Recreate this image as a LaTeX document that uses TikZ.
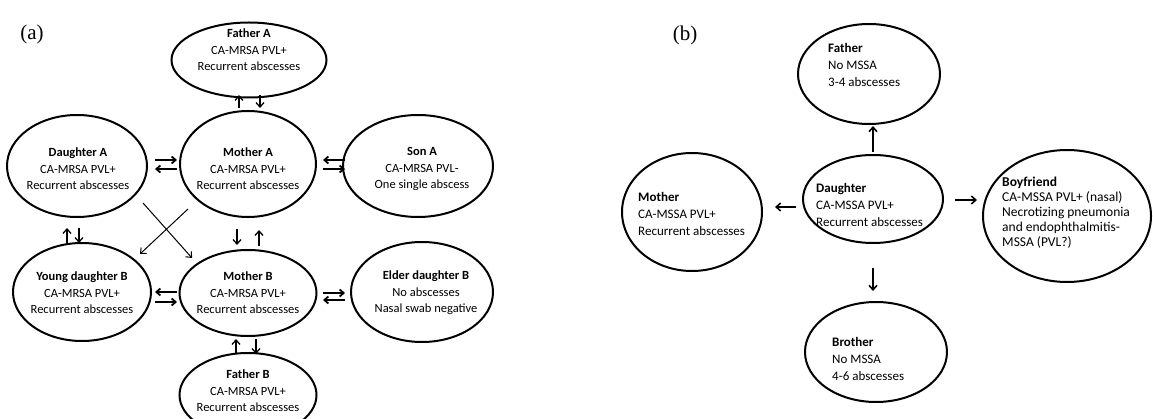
\documentclass[tikz,border=0pt]{standalone}
\usepackage{fontspec}
\setmainfont{Carlito}
\newfontfamily\labelfont{Liberation Serif}
\usetikzlibrary{shapes.geometric,arrows.meta}
\tikzset{
  fam/.style={draw, ellipse, line width=2pt, inner sep=0pt},
  txta/.style={align=center, font=\fontsize{12.5}{16.5}\selectfont, inner sep=0pt},
  txtb/.style={align=left, anchor=west, font=\fontsize{13}{17}\selectfont, inner sep=0pt},
  arr/.style={line width=1.8pt, -{Straight Barb[length=4pt,width=7pt]}},
  arrthin/.style={line width=1.3pt, -{Straight Barb[length=4.5pt,width=8pt]}},
  panel/.style={font=\labelfont\fontsize{21}{24}\selectfont, inner sep=0pt}
}
\begin{document}
\begin{tikzpicture}[x=1pt,y=-1pt]
\useasboundingbox (0,0) rectangle (1153,419);
\clip (0,0) rectangle (1153,419);
\fill[white] (0,0) rectangle (1153,419);
% ---------- panel (a)
\node[panel] (la) at (32,34) {(a)};
\node[fam, minimum width=155pt, minimum height=75pt] (fa) at (249,60) {};
\node[fam, minimum width=136pt, minimum height=106pt] (ma) at (248,164) {};
\node[fam, minimum width=140pt, minimum height=102pt] (da) at (77,166) {};
\node[fam, minimum width=150pt, minimum height=102pt] (sa) at (418,166) {};
\node[fam, minimum width=138pt, minimum height=98pt] (yb) at (82,292) {};
\node[fam, minimum width=137pt, minimum height=86pt] (mb) at (248,293) {};
\node[fam, minimum width=142pt, minimum height=100pt] (eb) at (422,292) {};
\node[fam, minimum width=137pt, minimum height=84pt] (fb) at (248,395) {};

\node[txta] (tfa) at (249,50) {\textbf{Father A}\\CA-MRSA PVL+\\Recurrent abscesses};
\node[txta] (tma) at (248,169) {\textbf{Mother A}\\CA-MRSA PVL+\\Recurrent abscesses};
\node[txta] (tda) at (78,169) {\textbf{Daughter A}\\CA-MRSA PVL+\\Recurrent abscesses};
\node[txta] (tsa) at (422,169) {\textbf{Son A}\\CA-MRSA PVL-\\One single abscess};
\node[txta] (tyb) at (82,293) {\textbf{Young daughter B}\\CA-MRSA PVL+\\Recurrent abscesses};
\node[txta] (tmb) at (248,293) {\textbf{Mother B}\\CA-MRSA PVL+\\Recurrent abscesses};
\node[txta] (teb) at (426,293) {\textbf{Elder daughter B}\\No abscesses\\Nasal swab negative};
\node[txta] (tfb) at (248,391) {\textbf{Father B}\\CA-MRSA PVL+\\Recurrent abscesses};

% Father A <-> Mother A
\coordinate (c1a) at (239,108); \coordinate (c1b) at (239,95);
\coordinate (c2a) at (260,95);  \coordinate (c2b) at (260,108);
\draw[arrthin] (c1a) -- (c1b);
\draw[arrthin] (c2a) -- (c2b);
% Daughter A <-> Mother A
\coordinate (c3a) at (155,160); \coordinate (c3b) at (177,160);
\coordinate (c4a) at (177,169); \coordinate (c4b) at (155,169);
\draw[arr] (c3a) -- (c3b);
\draw[arr] (c4a) -- (c4b);
% Son A <-> Mother A
\coordinate (c5a) at (345,160); \coordinate (c5b) at (323,160);
\coordinate (c6a) at (323,169); \coordinate (c6b) at (345,169);
\draw[arr] (c5a) -- (c5b);
\draw[arr] (c6a) -- (c6b);
% Daughter A <-> Young daughter B
\coordinate (c7a) at (67,243); \coordinate (c7b) at (67,228);
\coordinate (c8a) at (79,228); \coordinate (c8b) at (79,243);
\draw[arrthin] (c7a) -- (c7b);
\draw[arrthin] (c8a) -- (c8b);
% Mother A <-> Mother B
\coordinate (c9a) at (237,229); \coordinate (c9b) at (237,245);
\coordinate (c10a) at (259,246); \coordinate (c10b) at (259,230);
\draw[arrthin] (c9a) -- (c9b);
\draw[arrthin] (c10a) -- (c10b);
% cross arrows
\coordinate (x1a) at (143,203); \coordinate (x1b) at (192,258);
\coordinate (x2a) at (188,209); \coordinate (x2b) at (140,254);
\draw[arrthin, line width=1pt] (x1a) -- (x1b);
\draw[arrthin, line width=1pt] (x2a) -- (x2b);
% Young daughter B <-> Mother B
\coordinate (c11a) at (177,292); \coordinate (c11b) at (155,292);
\coordinate (c12a) at (155,302); \coordinate (c12b) at (177,302);
\draw[arr] (c11a) -- (c11b);
\draw[arr] (c12a) -- (c12b);
% Mother B <-> Elder daughter B
\coordinate (c13a) at (323,293); \coordinate (c13b) at (345,293);
\coordinate (c14a) at (345,300); \coordinate (c14b) at (323,300);
\draw[arr] (c13a) -- (c13b);
\draw[arr] (c14a) -- (c14b);
% Mother B <-> Father B
\coordinate (c15a) at (236,354); \coordinate (c15b) at (236,339);
\coordinate (c16a) at (256,339); \coordinate (c16b) at (256,354);
\draw[arrthin] (c15a) -- (c15b);
\draw[arrthin] (c16a) -- (c16b);

% ---------- panel (b)
\node[panel] (lb) at (685,35) {(b)};
\node[fam, minimum width=142pt, minimum height=100pt] (fab) at (869,74) {};
\node[fam, minimum width=140pt, minimum height=88pt] (dab) at (873,199) {};
\node[fam, minimum width=140pt, minimum height=118pt] (mob) at (692,212) {};
\node[fam, minimum width=168pt, minimum height=132pt] (bfb) at (1067,216) {};
\node[fam, minimum width=142pt, minimum height=100pt] (brb) at (876,352) {};

\node[txtb] (tfab) at (828,65) {\textbf{Father}\\No MSSA\\3-4 abscesses};
\node[txtb] (tdab) at (816,205) {\textbf{Daughter}\\CA-MSSA PVL+\\Recurrent abscesses};
\node[txtb] (tmob) at (638,214) {\textbf{Mother}\\CA-MSSA PVL+\\Recurrent abscesses};
\node[txtb, font=\fontsize{13.5}{15}\selectfont] (tbfb) at (1002,213) {\textbf{Boyfriend}\\CA-MSSA PVL+ (nasal)\\Necrotizing pneumonia\\and endophthalmitis-\\MSSA (PVL?)};
\node[txtb] (tbrb) at (832,359) {\textbf{Brother}\\No MSSA\\4-6 abscesses};

\coordinate (b1a) at (873,152); \coordinate (b1b) at (873,126);
\coordinate (b2a) at (796,207); \coordinate (b2b) at (775,207);
\coordinate (b3a) at (955,200); \coordinate (b3b) at (977,200);
\coordinate (b4a) at (873,268); \coordinate (b4b) at (873,291);
\draw[arrthin, line width=1.6pt] (b1a) -- (b1b);
\draw[arrthin, line width=1.6pt] (b2a) -- (b2b);
\draw[arrthin, line width=1.6pt] (b3a) -- (b3b);
\draw[arrthin, line width=1.6pt] (b4a) -- (b4b);
\end{tikzpicture}
\end{document}
